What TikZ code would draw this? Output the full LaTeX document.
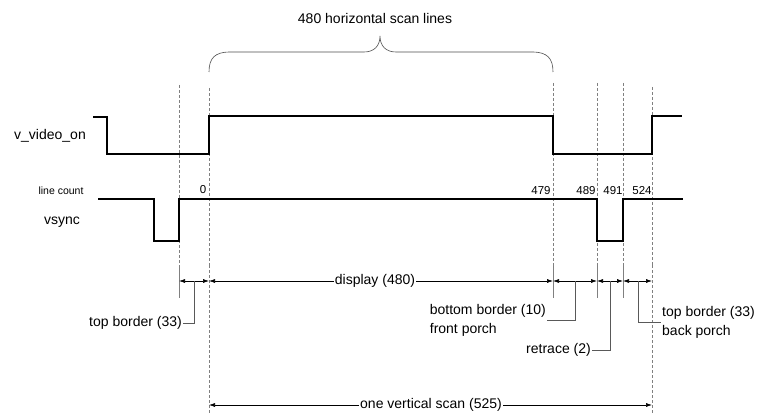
\documentclass[tikz,border=0pt]{standalone}
\usepackage{fontspec}
\setmainfont{Liberation Sans}
\usetikzlibrary{arrows.meta}
\begin{document}
\begin{tikzpicture}[x=1pt,y=-1pt,
  signal/.style={line width=1.4pt,line join=miter},
  guide/.style={gray,line width=0.5pt,dash pattern=on 3pt off 2pt},
  ext/.style={gray,line width=0.5pt},
  dimline/.style={line width=0.6pt,{Latex[length=6pt,width=4pt]}-{Latex[length=6pt,width=4pt]}},
  halfdim/.style={line width=0.6pt,-{Latex[length=6pt,width=4pt]}},
  leader/.style={line width=0.5pt,gray!70!black},
  lbl/.style={font=\fontsize{14}{19}\selectfont,inner sep=1pt},
  num/.style={font=\fontsize{11.5}{13}\selectfont,inner sep=0pt},
  small/.style={font=\fontsize{10.5}{12}\selectfont,inner sep=0pt},
  brace/.style={gray!60!black,line width=0.6pt}]
\useasboundingbox (0,0) rectangle (765,414);

% boundary guide lines
\draw[guide] (179,85) -- (179,265);
\draw[guide] (209,88) -- (209,265);
\draw[guide] (553,83) -- (553,265);
\draw[guide] (597,83) -- (597,265);
\draw[guide] (623,83) -- (623,265);
\draw[guide] (652,87) -- (652,265);
\draw[ext] (179,265) -- (179,298);
\draw[ext] (553,265) -- (553,298);
\draw[ext] (597,265) -- (597,298);
\draw[ext] (623,265) -- (623,298);
\draw[guide] (209,265) -- (209,414);
\draw[guide] (652,265) -- (652,414);

% brace
\draw[brace] (209,72) .. controls (209,58) and (215,52) .. (230,52) -- (364,52)
  .. controls (374,52) and (380,46) .. (380,36)
  .. controls (380,46) and (386,52) .. (396,52) -- (532,52)
  .. controls (547,52) and (553,58) .. (553,72);
\node[lbl] (title) at (375,18) {480 horizontal scan lines};

% signal labels
\node[lbl] (vvo) at (50,136) {v\_video\_on};
\node[small] (lc) at (61,191) {line count};
\node[lbl] (vs) at (62,222) {vsync};

% signals
\draw[signal] (93,117) -- (107,117) -- (107,154) -- (209,154) -- (209,116)
  -- (553,116) -- (553,154) -- (652,154) -- (652,116) -- (682,116);
\draw[signal] (98,199) -- (154,199) -- (154,241) -- (179,241) -- (179,199)
  -- (597,199) -- (597,241) -- (623,241) -- (623,199) -- (683,199);

% line counts
\node[num] (n0) at (203,190) {0};
\node[num] (n479) at (541,191) {479};
\node[num] (n489) at (586,191) {489};
\node[num] (n491) at (613,191) {491};
\node[num] (n524) at (642,191) {524};

% dimension row
\coordinate (dA) at (179,281);
\coordinate (dB) at (209,281);
\coordinate (dC) at (553,281);
\coordinate (dD) at (597,281);
\coordinate (dE) at (623,281);
\coordinate (dF) at (652,281);
\draw[dimline] (dA) -- (dB);
\node[lbl,fill=white] (disp) at (375,281) {display (480)};
\draw[halfdim] (disp) -- (dB);
\draw[halfdim] (disp) -- (dC);
\draw[dimline] (dC) -- (dD);
\draw[dimline] (dD) -- (dE);
\draw[dimline] (dE) -- (dF);

% leaders and labels
\coordinate (tbT) at (194,281);
\node[lbl,anchor=east] (tb) at (183,323) {top border (33)};
\draw[leader] (tbT) |- (tb.east);

\coordinate (bbT) at (575,281);
\node[lbl,anchor=east,align=left] (bb) at (547,320) {bottom border (10)\\front porch};
\draw[leader] (bbT) |- (bb.east);

\coordinate (rtT) at (610,281);
\node[lbl,anchor=east] (rt) at (592,350) {retrace (2)};
\draw[leader] (rtT) |- (rt.east);

\coordinate (bpT) at (638,281);
\node[lbl,anchor=west,align=left] (bp) at (661,322) {top border (33)\\back porch};
\draw[leader] (bpT) |- (bp.west);

% one vertical scan
\coordinate (sB) at (209,405);
\coordinate (sF) at (652,405);
\node[lbl,fill=white] (ovs) at (431,405) {one vertical scan (525)};
\draw[halfdim] (ovs) -- (sB);
\draw[halfdim] (ovs) -- (sF);
\end{tikzpicture}
\end{document}
